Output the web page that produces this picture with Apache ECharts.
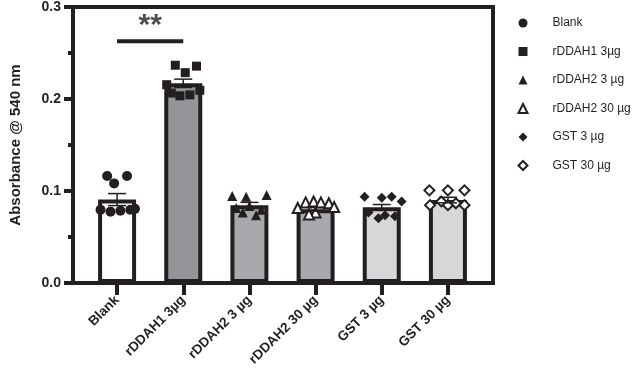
<!DOCTYPE html>
<html>
<head>
<meta charset="utf-8">
<script src="https://cdn.jsdelivr.net/npm/echarts@6/dist/echarts.min.js"></script>
<style>
    html, body { margin: 0; padding: 0; background: #fff; }
    #chart { width: 633px; height: 382px; }
</style>
</head>
<body>
<div id="chart"></div>
<script>
// 数据
const categories = ['Blank', 'rDDAH1 3µg', 'rDDAH2 3 µg', 'rDDAH2 30 µg', 'GST 3 µg', 'GST 30 µg'];
const means = [0.090, 0.2155, 0.084, 0.0795, 0.0817, 0.0895];
const sems = [0.0065, 0.0045, 0.003, 0.002, 0.003, 0.003];
const barColors = ['#ffffff', '#939598', '#a7a9ac', '#a7a9ac', '#d6d7d9', '#d6d7d9'];
const symbols = ['circle', 'rect', 'triangle', 'emptyTriangle', 'diamond', 'emptyDiamond'];

// 每组的散点 [横向偏移, 数值]
const blankPts = [[-0.15, 0.1154], [0.15, 0.1154], [-0.045, 0.1075], [-0.25, 0.079], [-0.1, 0.077], [0.05, 0.078], [0.2, 0.079], [0.27, 0.080]];
const rddah1Pts = [[-0.12, 0.235], [0.2, 0.234], [0.03, 0.227], [-0.25, 0.214], [0.25, 0.208], [-0.18, 0.205], [0.1, 0.203], [-0.05, 0.202]];
const rddah2lowPts = [[-0.26, 0.094], [-0.05, 0.093], [0.26, 0.095], [0.0, 0.083], [-0.2, 0.081], [0.18, 0.079], [0.1, 0.073], [-0.1, 0.076]];
const rddah2highPts = [[-0.27, 0.081], [-0.15, 0.087], [-0.03, 0.088], [0.08, 0.087], [0.2, 0.086], [0.28, 0.082], [0.0, 0.076], [-0.1, 0.074]];
const gstLowPts = [[-0.26, 0.093], [0.0, 0.092], [0.15, 0.093], [0.3, 0.088], [-0.2, 0.076], [0.05, 0.073], [0.2, 0.072], [-0.05, 0.070]];
const gstHighPts = [[-0.28, 0.100], [0.0, 0.100], [0.25, 0.100], [-0.27, 0.084], [0.0, 0.084], [0.25, 0.084], [-0.1, 0.088], [0.12, 0.086]];
const groupPts = [blankPts, rddah1Pts, rddah2lowPts, rddah2highPts, gstLowPts, gstHighPts];

// 显著性标记
const sigPair = [0, 1];
const sigLevel = 0.261;
const sigText = '**';

const yTicks = [0, 0.1, 0.2, 0.3];

const ink = '#231f20';
const labelFont = 'Liberation Sans, Arial, sans-serif';
const legendFont = 'Liberation Sans Narrow, Liberation Sans, Arial, sans-serif';

function initChart() {
    const chart = echarts.init(document.getElementById('chart'));

    const scatterSeries = groupPts.map((pts, i) => {
        const hollow = symbols[i].indexOf('empty') === 0;
        return {
            name: categories[i],
            type: 'scatter',
            xAxisIndex: 1,
            yAxisIndex: 1,
            symbol: symbols[i],
            symbolSize: i === 1 ? 9 : 10,
            itemStyle: {
                color: ink,
                borderColor: ink,
                borderWidth: hollow ? 2.5 : 0,
                opacity: 1
            },
            z: 3,
            data: pts.map(p => [i + p[0], p[1]])
        };
    });

    const option = {
        animation: false,
        backgroundColor: '#ffffff',
        grid: [{
            left: 84,
            right: 152,
            top: 5,
            bottom: 99
        }, {
            left: 72,
            right: 140,
            top: 5,
            bottom: 99,
            show: true,
            borderColor: ink,
            borderWidth: 4,
            backgroundColor: 'transparent',
            z: 10
        }],
        legend: {
            orient: 'vertical',
            left: 517.5,
            top: 17,
            padding: 0,
            itemWidth: 9,
            itemHeight: 9,
            itemGap: 16.5,
            data: categories,
            textStyle: {
                fontFamily: legendFont,
                fontSize: 12,
                color: ink,
                padding: [0, 0, 0, 20]
            }
        },
        xAxis: [{
            type: 'category',
            gridIndex: 0,
            data: categories,
            axisLine: { show: false },
            axisTick: {
                show: true,
                alignWithLabel: true,
                length: 12,
                lineStyle: { color: ink, width: 4 }
            },
            axisLabel: {
                interval: 0,
                rotate: 45,
                margin: 15,
                fontFamily: labelFont,
                fontWeight: 'bold',
                fontSize: 13.5,
                color: ink
            },
            splitLine: { show: false }
        }, {
            type: 'value',
            gridIndex: 0,
            min: -0.5,
            max: 5.5,
            show: false
        }, {
            type: 'value',
            gridIndex: 1,
            min: 0,
            max: 1,
            show: false
        }],
        yAxis: [{
            type: 'value',
            gridIndex: 1,
            min: yTicks[0],
            max: yTicks[yTicks.length - 1],
            interval: 0.1,
            name: 'Absorbance @ 540 nm',
            nameLocation: 'middle',
            nameGap: 50,
            nameTextStyle: {
                fontFamily: labelFont,
                fontWeight: 'bold',
                fontSize: 15,
                color: ink
            },
            axisLine: { show: false },
            axisTick: {
                show: true,
                length: 9,
                lineStyle: { color: ink, width: 4 }
            },
            minorTick: {
                show: true,
                splitNumber: 2,
                length: 5,
                lineStyle: { color: ink, width: 4 }
            },
            axisLabel: {
                margin: 12,
                fontFamily: labelFont,
                fontWeight: 'bold',
                fontSize: 14,
                color: ink,
                formatter: v => v.toFixed(1)
            },
            splitLine: { show: false }
        }, {
            type: 'value',
            gridIndex: 0,
            min: yTicks[0],
            max: yTicks[yTicks.length - 1],
            show: false
        }],
        series: [{
            type: 'bar',
            xAxisIndex: 0,
            yAxisIndex: 1,
            barWidth: 38,
            z: 2,
            data: means.map((m, i) => ({
                value: m,
                itemStyle: {
                    color: barColors[i],
                    borderColor: ink,
                    borderWidth: 4
                }
            }))
        },
        ...scatterSeries,
        {
            // 误差线 (SEM)
            type: 'custom',
            xAxisIndex: 0,
            yAxisIndex: 1,
            z: 4,
            renderItem: (params, api) => {
                const x = api.value(0);
                const hi = api.coord([x, api.value(1) + api.value(2)]);
                const lo = api.coord([x, api.value(1) - api.value(2)]);
                const half = 9;
                const style = { stroke: ink, lineWidth: 1.5 };
                return {
                    type: 'group',
                    children: [
                        { type: 'line', shape: { x1: hi[0], y1: hi[1], x2: lo[0], y2: lo[1] }, style },
                        { type: 'line', shape: { x1: hi[0] - half, y1: hi[1], x2: hi[0] + half, y2: hi[1] }, style },
                        { type: 'line', shape: { x1: lo[0] - half, y1: lo[1], x2: lo[0] + half, y2: lo[1] }, style }
                    ]
                };
            },
            data: means.map((m, i) => [i, m, sems[i]])
        },
        {
            // 显著性横线
            type: 'line',
            xAxisIndex: 1,
            yAxisIndex: 1,
            symbol: 'none',
            silent: true,
            lineStyle: { color: ink, width: 4 },
            z: 5,
            data: [[sigPair[0], sigLevel], [sigPair[1], sigLevel]]
        },
        {
            type: 'scatter',
            xAxisIndex: 1,
            yAxisIndex: 1,
            symbolSize: 0,
            silent: true,
            z: 5,
            label: {
                show: true,
                position: 'top',
                distance: 0,
                formatter: sigText,
                fontFamily: labelFont,
                fontWeight: 'bold',
                fontSize: 30,
                color: ink
            },
            data: [[(sigPair[0] + sigPair[1]) / 2, sigLevel]]
        }]
    };
    chart.setOption(option);
}

document.addEventListener('DOMContentLoaded', initChart);
</script>
</body>
</html>
